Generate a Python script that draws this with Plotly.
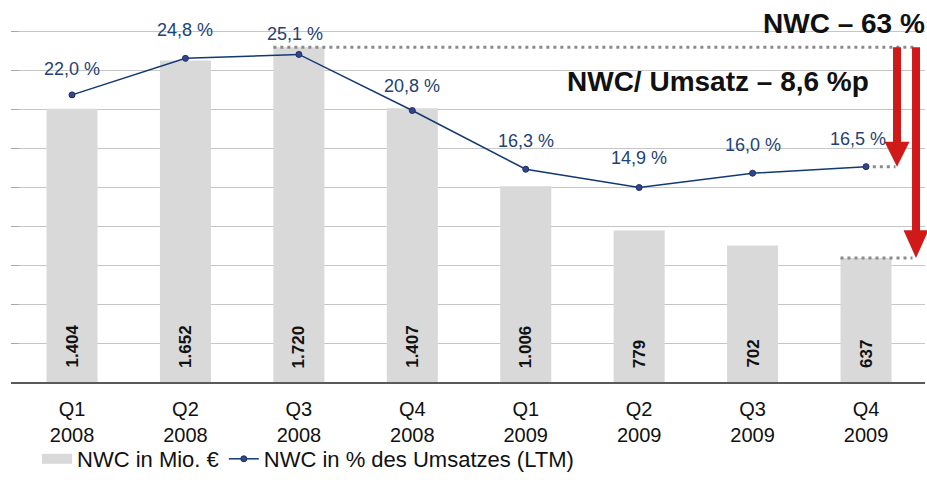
import plotly.graph_objects as go

quarters = ["Q1<br>2008", "Q2<br>2008", "Q3<br>2008", "Q4<br>2008",
            "Q1<br>2009", "Q2<br>2009", "Q3<br>2009", "Q4<br>2009"]
nwc_mio = [1404, 1652, 1720, 1407, 1006, 779, 702, 637]
nwc_mio_labels = ["1.404", "1.652", "1.720", "1.407", "1.006", "779", "702", "637"]
nwc_pct = [22.0, 24.8, 25.1, 20.8, 16.3, 14.9, 16.0, 16.5]
nwc_pct_labels = ["22,0 %", "24,8 %", "25,1 %", "20,8 %", "16,3 %", "14,9 %", "16,0 %", "16,5 %"]
headline_nwc = "NWC – 63 %"
headline_ratio = "NWC/ Umsatz – 8,6 %p"

# styles / layout constants
FONT = "Liberation Sans, Arial, sans-serif"
BAR_COLOR = "#d9d9d9"
LINE_COLOR = "#123a72"
LABEL_BLUE = "#1f4274"
RED = "#d01a1a"
DOT_GREY = "#8a8a8a"
W, H = 927, 480
L, R, T, B = 11, 2, 0, 96
PLOT_H = H - T - B
PW = W - L - R
Y1MAX = 1963
Y2MAX = 29.27
XMIN, XMAX = -0.538, 7.52
pct_yshift = [26, 28, 20, 25, 28, 30, 28, 28]
pct_xshift = [0, 0, -4, 0, 0, 0, 0, -8]

x = list(range(len(quarters)))

fig = go.Figure()
fig.add_trace(go.Bar(
    x=x, y=nwc_mio, name="NWC in Mio. €", showlegend=False,
    marker=dict(color=BAR_COLOR, line=dict(width=0)),
    width=0.45, hoverinfo="skip",
))
# legend proxy giving the wide grey swatch of the original
fig.add_trace(go.Scatter(
    x=[None], y=[None], name="NWC in Mio. €", mode="lines",
    line=dict(color=BAR_COLOR, width=10),
))
fig.add_trace(go.Scatter(
    x=x, y=nwc_pct, name="NWC in % des Umsatzes (LTM)", yaxis="y2",
    mode="lines+markers",
    line=dict(color=LINE_COLOR, width=1.5),
    marker=dict(size=6, color="#34458a", line=dict(color="#1b2d66", width=1)),
))

annotations = []
for i, t in enumerate(nwc_mio_labels):
    annotations.append(dict(
        x=i, y=0, xref="x", yref="y", text=f"<b>{t}</b>", showarrow=False,
        textangle=-90, yanchor="bottom", xanchor="center", yshift=12,
        font=dict(family=FONT, size=17, color="#111111"),
    ))
for i, (v, t) in enumerate(zip(nwc_pct, nwc_pct_labels)):
    annotations.append(dict(
        x=i, y=v, xref="x", yref="y2", text=t, showarrow=False,
        yanchor="middle", xanchor="center", yshift=pct_yshift[i], xshift=pct_xshift[i],
        font=dict(family=FONT, size=18, color=LABEL_BLUE),
    ))

def px_to_paper(sx, sy):
    return (sx - L) / PW, (H - sy - B) / PLOT_H

hx, hy = px_to_paper(844, 24)
annotations.append(dict(
    x=hx, y=hy, xref="paper", yref="paper", text=f"<b>{headline_nwc}</b>",
    xanchor="center", yanchor="middle",
    showarrow=False, font=dict(family=FONT, size=28, color="#111111"),
))
hx, hy = px_to_paper(718, 82)
annotations.append(dict(
    x=hx, y=hy, xref="paper", yref="paper", text=f"<b>{headline_ratio}</b>",
    xanchor="center", yanchor="middle",
    showarrow=False, font=dict(family=FONT, size=28, color="#111111"),
))

last = len(x) - 1
peak_i = nwc_mio.index(max(nwc_mio))
peak = nwc_mio[peak_i]
y_per_px = Y1MAX / PLOT_H
y2_per_px = Y2MAX / PLOT_H
peak_in_y2 = peak * Y2MAX / Y1MAX
last_paper = (last - XMIN) / (XMAX - XMIN)

dot = dict(color=DOT_GREY, width=3, dash="3px,4px")
shapes = [
    dict(type="line", xref="x", yref="y", x0=peak_i - 0.225, x1=last + 0.43,
         y0=peak, y1=peak, line=dot),
    dict(type="line", xref="x", yref="y2", x0=last + 0.06, x1=last + 0.26,
         y0=nwc_pct[last], y1=nwc_pct[last], line=dot),
    dict(type="line", xref="x", yref="y", x0=last - 0.225, x1=last + 0.41,
         y0=nwc_mio[last], y1=nwc_mio[last], line=dot),
]

def arrow(xpx, top, tip, per_px, yref, head_len):
    head = head_len * per_px
    return dict(
        type="path", xref="paper", yref=yref, xsizemode="pixel", xanchor=last_paper,
        path=(f"M {xpx-4},{top} L {xpx+4},{top} L {xpx+4},{tip+head} "
              f"L {xpx+12.5},{tip+head} L {xpx},{tip} L {xpx-12.5},{tip+head} "
              f"L {xpx-4},{tip+head} Z"),
        fillcolor=RED, line=dict(width=0),
    )

shapes.append(arrow(31, peak_in_y2, nwc_pct[last], y2_per_px, "y2", 25))
shapes.append(arrow(50, peak, nwc_mio[last], y_per_px, "y", 28))

lx, ly = px_to_paper(37, 462)

fig.update_layout(
    width=W, height=H,
    margin=dict(l=L, r=R, t=T, b=B),
    paper_bgcolor="white", plot_bgcolor="white",
    font=dict(family=FONT, size=18, color="#111111"),
    bargap=0.55,
    showlegend=True,
    legend=dict(orientation="h", x=lx, y=ly, xanchor="left", yanchor="middle",
                font=dict(family=FONT, size=22, color="#111111"),
                itemwidth=30, bgcolor="rgba(0,0,0,0)"),
    xaxis=dict(range=[XMIN, XMAX], tickvals=x, ticktext=quarters,
               showgrid=False, showline=True, linecolor="#5a5a5a", linewidth=2,
               ticks="", zeroline=False, ticklabelstandoff=8,
               tickfont=dict(family=FONT, size=20, color="#111111")),
    yaxis=dict(range=[0, Y1MAX], dtick=200, showgrid=True, gridcolor="#c6c6c6",
               gridwidth=1, showticklabels=False, zeroline=False,
               ticks="inside", ticklen=8, tickcolor="#a8a8a8", tickwidth=1),
    yaxis2=dict(range=[0, Y2MAX], overlaying="y", side="right", showgrid=False,
                showticklabels=False, zeroline=False, ticks=""),
    annotations=annotations,
    shapes=shapes,
)

fig.write_html(
    "out.html",
    config={"displayModeBar": False},
    post_script="document.body.style.margin='0';document.documentElement.style.overflow='hidden';",
)
